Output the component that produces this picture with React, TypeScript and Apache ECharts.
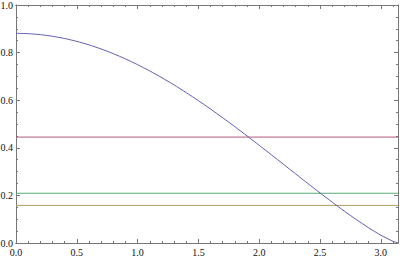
import React, { useEffect, useRef } from "react";
import * as echarts from "echarts";

const xMax = Math.PI;
const xs = [0, 0.1, 0.2, 0.3, 0.4, 0.5, 0.6, 0.7, 0.8, 0.9, 1.0, 1.1, 1.2, 1.3, 1.4, 1.5, 1.6, 1.7, 1.8, 1.9, 2.0, 2.1, 2.2, 2.3, 2.4, 2.5, 2.6, 2.7, 2.8, 2.9, 3.0, 3.1, Math.PI];
const ys = [0.881, 0.8796, 0.8755, 0.8687, 0.8593, 0.8472, 0.8325, 0.8153, 0.7956, 0.7736, 0.7493, 0.7229, 0.6944, 0.664, 0.6318, 0.5981, 0.5628, 0.5263, 0.4886, 0.45, 0.4106, 0.3707, 0.3306, 0.2903, 0.2502, 0.2106, 0.1717, 0.134, 0.0979, 0.0639, 0.033, 0.0072, 0];
const hLineValues = [0.445, 0.158, 0.209];
const seriesColors = ["#5f5db5", "#b0587f", "#ada05a", "#58ad75"];
const xMajorTicks = [0, 0.5, 1.0, 1.5, 2.0, 2.5, 3.0];
const xMinorTicks = [0.1, 0.2, 0.3, 0.4, 0.6, 0.7, 0.8, 0.9, 1.1, 1.2, 1.3, 1.4, 1.6, 1.7, 1.8, 1.9, 2.1, 2.2, 2.3, 2.4, 2.6, 2.7, 2.8, 2.9, 3.1];

const frameColor = "#777";
const font = "'Liberation Serif', 'DejaVu Serif', serif";

export default function App() {
  const ref = useRef<HTMLDivElement>(null);
  useEffect(() => {
    document.body.style.margin = "0";
    const chart = echarts.init(ref.current!, null, { renderer: "svg" });
    const xAxisBase = (position: string, ticks: number[], len: number, labels: boolean) => ({
      type: "value",
      position,
      min: 0,
      max: xMax,
      interval: 0.5,
      splitLine: { show: false },
      axisLine: { show: true, onZero: false, lineStyle: { color: frameColor, width: 1 } },
      axisTick: { show: true, inside: true, length: len, customValues: ticks, lineStyle: { color: frameColor } },
      axisLabel: labels
        ? { show: true, customValues: xMajorTicks, margin: 4, color: "#111", fontFamily: font, fontSize: 10, formatter: (v: number) => v.toFixed(1) }
        : { show: false },
    });
    const yAxisBase = (position: string, labels: boolean) => ({
      type: "value",
      position,
      min: 0,
      max: 1,
      interval: 0.2,
      splitLine: { show: false },
      axisLine: { show: true, onZero: false, lineStyle: { color: frameColor, width: 1 } },
      axisTick: { show: true, inside: true, length: 4, lineStyle: { color: frameColor } },
      minorTick: { show: true, splitNumber: 4, length: 2, lineStyle: { color: frameColor } },
      axisLabel: labels
        ? { show: true, margin: 3, color: "#111", fontFamily: font, fontSize: 10, formatter: (v: number) => v.toFixed(1) }
        : { show: false },
    });
    chart.setOption({
      animation: false,
      grid: { left: 16, right: 2, top: 5, bottom: 15, containLabel: false, outerBoundsMode: "none" },
      xAxis: [
        xAxisBase("bottom", xMajorTicks, 4, true),
        xAxisBase("bottom", xMinorTicks, 2, false),
        xAxisBase("top", xMajorTicks, 4, false),
        xAxisBase("top", xMinorTicks, 2, false),
      ],
      yAxis: [yAxisBase("left", true), yAxisBase("right", false)],
      series: [
        {
          type: "line",
          data: xs.map((x, i) => [x, ys[i]]),
          showSymbol: false,
          smooth: 0.2,
          lineStyle: { color: seriesColors[0], width: 1 },
          z: 5,
        },
        ...hLineValues.map((v, i) => ({
          type: "line",
          data: [[0, v], [xMax, v]],
          showSymbol: false,
          lineStyle: { color: seriesColors[i + 1], width: 1 },
          z: 3,
        })),
      ],
    });
    return () => chart.dispose();
  }, []);
  return <div ref={ref} style={{ width: 400, height: 258 }} />;
}
